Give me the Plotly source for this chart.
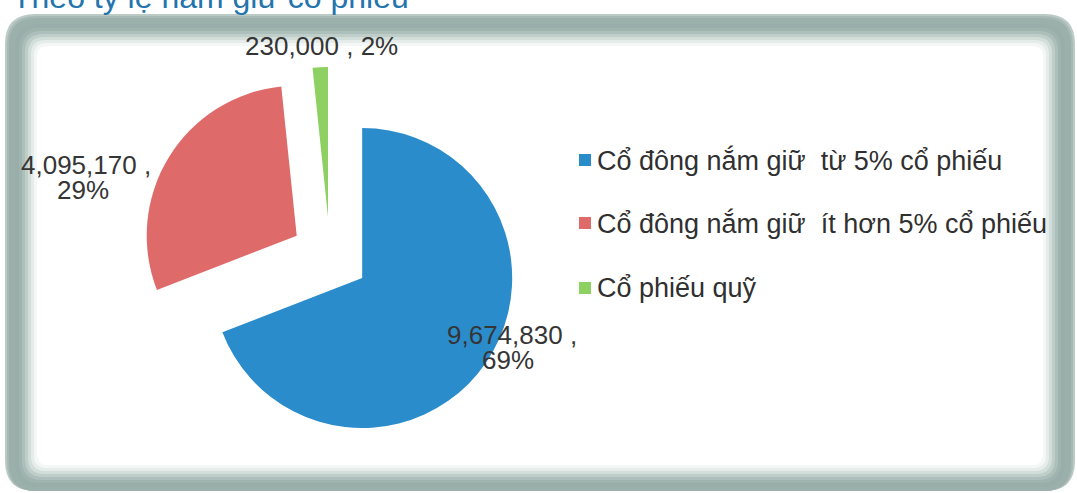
import plotly.graph_objects as go

# ---- data ----
categories = ["Cổ đông nắm giữ  từ 5% cổ phiếu",
              "Cổ đông nắm giữ  ít hơn 5% cổ phiếu",
              "Cổ phiếu quỹ"]
values = [9674830, 4095170, 230000]
colors = ["#2b8ccc", "#de6a6a", "#8fd062"]
title_text = "Theo tỷ lệ nắm giữ cổ phiếu"

W, H = 1077, 493
total = sum(values)
pcts = [round(v / total * 100) for v in values]

fig = go.Figure()

# pie: center ~ (330,256) px, radius ~150 px, pull 0.26
cx, cy, R, pull = 330, 256, 150, 0.26
half = R * (1 + pull)
fig.add_trace(go.Pie(
    labels=categories, values=values, sort=False, direction="clockwise",
    rotation=0, pull=[pull, pull, pull],
    marker=dict(colors=colors, line=dict(width=0)),
    textinfo="none", hoverinfo="label+value+percent", showlegend=False,
    domain=dict(x=[(cx - half) / W, (cx + half) / W],
                y=[1 - (cy + half) / H, 1 - (cy - half) / H]),
))

# dummy axes in pixel coordinates for frame / labels
fig.add_trace(go.Scatter(x=[0, W], y=[0, H], mode="markers",
                         marker=dict(opacity=0), hoverinfo="skip", showlegend=False))


def rrect(x0, y0, x1, y1, r):
    return (f"M{x0 + r},{y0} L{x1 - r},{y0} Q{x1},{y0} {x1},{y0 + r} "
            f"L{x1},{y1 - r} Q{x1},{y1} {x1 - r},{y1} L{x0 + r},{y1} "
            f"Q{x0},{y1} {x0},{y1 - r} L{x0},{y0 + r} Q{x0},{y0} {x0 + r},{y0} Z")


OX0, OY0, OX1, OY1 = 5, 14, 1075, 491
frame_layers = [
    (0, "#bccac6"), (2, "#a8bab6"), (4, "#9bb0ab"), (10, "#99aeaa"),
    (14, "#a0b4af"), (17, "#adbfbb"), (20, "#bfcec9"), (23, "#d2deda"),
    (26, "#e5ecea"), (29, "#f3f7f6"), (32, "#ffffff"),
]
shapes = []
for d, col in frame_layers:
    shapes.append(dict(type="path",
                       path=rrect(OX0 + d, OY0 + d, OX1 - d, OY1 - max(d - 6, 0),
                                  max(30 - d * 0.6, 8)),
                       xref="x", yref="y", fillcolor=col, line=dict(width=0), layer="below"))

# legend markers
leg_y = [160, 223, 288]
for yy, col in zip(leg_y, colors):
    shapes.append(dict(type="rect", xref="x", yref="y", x0=579, x1=591,
                       y0=yy - 6, y1=yy + 6, fillcolor=col, line=dict(width=0)))

annotations = []
FONT = "Liberation Sans, Arial, sans-serif"
font_lab = dict(family=FONT, size=26, color="#353535")
# data labels (each line placed separately)
lab_lines = [
    [(f"{values[0]:,} ,", 512, 335), (f"{pcts[0]}%", 508, 360)],
    [(f"{values[1]:,} ,", 86, 165), (f"{pcts[1]}%", 83, 190)],
    [(f"{values[2]:,} , {pcts[2]}%", 321, 46)],
]
for lines in lab_lines:
    for t, lx, ly in lines:
        annotations.append(dict(x=lx, y=ly, xref="x", yref="y", text=t, showarrow=False,
                                font=font_lab, xanchor="center", yanchor="middle"))
# legend texts
for yy, t in zip(leg_y, categories):
    annotations.append(dict(x=595, y=yy, xref="x", yref="y", text=t, showarrow=False,
                            font=dict(family=FONT, size=27, color="#303030"),
                            xanchor="left", yanchor="middle"))
# title (partially cut off at the top)
annotations.append(dict(x=10, y=17, xref="x", yref="y", text=title_text, showarrow=False,
                        font=dict(family=FONT, size=32, color="#2474ad"),
                        xanchor="left", yanchor="bottom"))

fig.update_layout(
    width=W, height=H, margin=dict(l=0, r=0, t=0, b=0),
    paper_bgcolor="white", plot_bgcolor="white",
    xaxis=dict(range=[0, W], visible=False, fixedrange=True),
    yaxis=dict(range=[H, 0], visible=False, fixedrange=True),
    shapes=shapes, annotations=annotations, showlegend=False,
)

fig.write_html("out.html", config={"displayModeBar": False},
               post_script="document.body.style.margin='0';document.body.style.overflow='hidden';")
